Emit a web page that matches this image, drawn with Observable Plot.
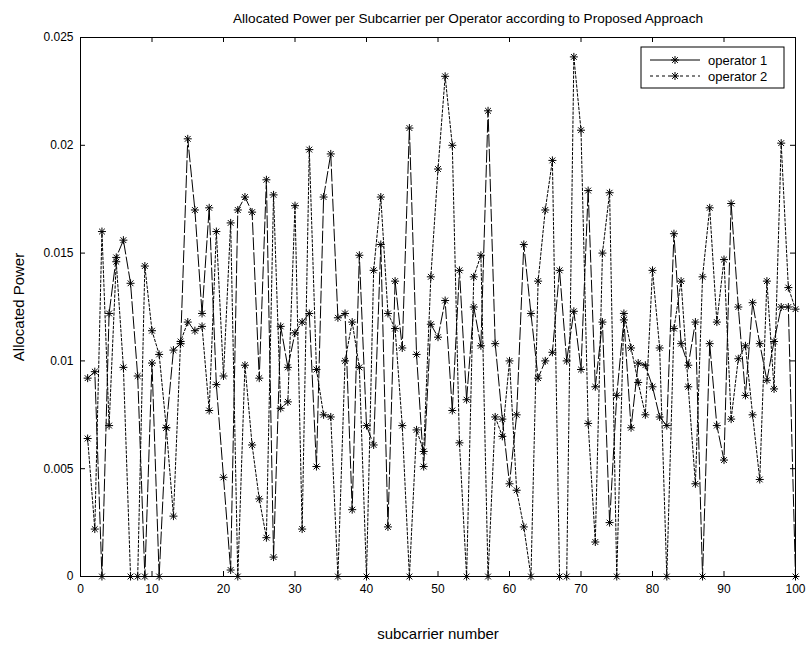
<!DOCTYPE html>
<html>
<head>
<meta charset="utf-8">
<script src="https://cdn.jsdelivr.net/npm/d3@7"></script>
<script src="https://cdn.jsdelivr.net/npm/@observablehq/plot@0.6"></script>
<style>
  html, body { margin: 0; padding: 0; background: #fff; }
  #chart { width: 809px; height: 649px; }
</style>
</head>
<body>
<div id="chart"></div>
<script>
// ---- data ----
const titleText = "Allocated Power per Subcarrier per Operator according to Proposed Approach";
const xLabel = "subcarrier number";
const yLabel = "Allocated Power";
const seriesNames = ["operator 1", "operator 2"];
const xTicks = [0, 10, 20, 30, 40, 50, 60, 70, 80, 90, 100];
const yTicks = [0, 0.005, 0.01, 0.015, 0.02, 0.025];
const yTickLabels = ["0", "0.005", "0.01", "0.015", "0.02", "0.025"];
const subcarriers = d3.range(1, 101);

const operator1 = [
  0.0092, 0.0095, 0.0000, 0.0122, 0.0148, 0.0156, 0.0136, 0.0093, 0.0000, 0.0099,
  0.0000, 0.0069, 0.0105, 0.0108, 0.0203, 0.0170, 0.0122, 0.0171, 0.0089, 0.0046,
  0.0003, 0.0170, 0.0176, 0.0169, 0.0092, 0.0184, 0.0009, 0.0116, 0.0097, 0.0113,
  0.0118, 0.0122, 0.0051, 0.0176, 0.0196, 0.0120, 0.0122, 0.0031, 0.0149, 0.0070,
  0.0061, 0.0154, 0.0023, 0.0137, 0.0106, 0.0208, 0.0103, 0.0051, 0.0117, 0.0111,
  0.0128, 0.0077, 0.0142, 0.0082, 0.0125, 0.0107, 0.0216, 0.0108, 0.0073, 0.0043,
  0.0075, 0.0154, 0.0122, 0.0092, 0.0100, 0.0104, 0.0142, 0.0100, 0.0123, 0.0096,
  0.0179, 0.0088, 0.0118, 0.0025, 0.0084, 0.0119, 0.0069, 0.0099, 0.0098, 0.0088,
  0.0074, 0.0070, 0.0159, 0.0108, 0.0098, 0.0118, 0.0000, 0.0108, 0.0070, 0.0054,
  0.0173, 0.0125, 0.0084, 0.0127, 0.0108, 0.0091, 0.0109, 0.0125, 0.0125, 0.0000
];
const operator2 = [
  0.0064, 0.0022, 0.0160, 0.0070, 0.0146, 0.0097, 0.0000, 0.0000, 0.0144, 0.0114,
  0.0103, 0.0069, 0.0028, 0.0109, 0.0118, 0.0114, 0.0116, 0.0077, 0.0160, 0.0093,
  0.0164, 0.0000, 0.0098, 0.0061, 0.0036, 0.0018, 0.0177, 0.0078, 0.0081, 0.0172,
  0.0022, 0.0198, 0.0096, 0.0075, 0.0074, 0.0000, 0.0100, 0.0118, 0.0097, 0.0000,
  0.0142, 0.0176, 0.0122, 0.0115, 0.0070, 0.0000, 0.0068, 0.0058, 0.0139, 0.0189,
  0.0232, 0.0200, 0.0062, 0.0000, 0.0139, 0.0149, 0.0000, 0.0074, 0.0065, 0.0100,
  0.0040, 0.0023, 0.0000, 0.0137, 0.0170, 0.0193, 0.0000, 0.0000, 0.0241, 0.0207,
  0.0071, 0.0016, 0.0150, 0.0178, 0.0000, 0.0122, 0.0106, 0.0090, 0.0075, 0.0142,
  0.0106, 0.0000, 0.0115, 0.0137, 0.0088, 0.0043, 0.0139, 0.0171, 0.0118, 0.0147,
  0.0073, 0.0101, 0.0107, 0.0075, 0.0045, 0.0137, 0.0087, 0.0201, 0.0134, 0.0124
];

// ---- build table ----
const rows1 = subcarriers.map((s, i) => ({s, v: operator1[i]}));
const rows2 = subcarriers.map((s, i) => ({s, v: operator2[i]}));

// MATLAB-like '*' marker
function drawStar(ctx, r) {
  const d = r * 0.72;
  ctx.moveTo(-r, 0); ctx.lineTo(r, 0);
  ctx.moveTo(0, -r); ctx.lineTo(0, r);
  ctx.moveTo(-d, -d); ctx.lineTo(d, d);
  ctx.moveTo(-d, d); ctx.lineTo(d, -d);
}
const starSymbol = { draw(ctx, size) { drawStar(ctx, Math.sqrt(size / Math.PI)); } };

const W = 809, H = 649;
const mL = 80, mR = 14, mT = 37, mB = 73;
const fw = W - mL - mR, fh = H - mT - mB;
const tick = 5;
const font = "'Liberation Sans', Arial, sans-serif";

const plot = Plot.plot({
  width: W, height: H,
  marginLeft: mL, marginRight: mR, marginTop: mT, marginBottom: mB,
  style: {fontFamily: font, fontSize: "12px", background: "#fff", color: "#000", overflow: "visible"},
  x: {domain: [0, 100], label: null},
  y: {domain: [0, 0.025], label: null},
  marks: [
    Plot.axisX({ticks: xTicks, tickSize: 0, tickPadding: 8, label: null, fontSize: 12}),
    Plot.axisY({ticks: yTicks, tickSize: 0, tickPadding: 7, label: null, fontSize: 12,
      tickFormat: (d) => yTickLabels[yTicks.indexOf(d)]}),
    // inward ticks on all four sides
    Plot.tickX(xTicks, {x: (d) => d, insetTop: fh - tick, stroke: "#000"}),
    Plot.tickX(xTicks, {x: (d) => d, insetBottom: fh - tick, stroke: "#000"}),
    Plot.tickY(yTicks, {y: (d) => d, insetRight: fw - tick, stroke: "#000"}),
    Plot.tickY(yTicks, {y: (d) => d, insetLeft: fw - tick, stroke: "#000"}),
    Plot.line(rows1, {x: "s", y: "v", stroke: "#000", strokeWidth: 1, strokeDasharray: "12,3"}),
    Plot.line(rows2, {x: "s", y: "v", stroke: "#000", strokeWidth: 1, strokeDasharray: "2.5,2"}),
    Plot.dot(rows1, {x: "s", y: "v", symbol: starSymbol, r: 4, stroke: "#000", fill: "none", strokeWidth: 1}),
    Plot.dot(rows2, {x: "s", y: "v", symbol: starSymbol, r: 4, stroke: "#000", fill: "none", strokeWidth: 1}),
    Plot.frame({stroke: "#000"}),
    Plot.text([titleText], {frameAnchor: "top", dx: 30, dy: -19, lineAnchor: "middle", fontSize: 13.6, fill: "#000"}),
    Plot.text([xLabel], {frameAnchor: "bottom", dy: 58, lineAnchor: "middle", fontSize: 15, fill: "#000"}),
    Plot.text([yLabel], {frameAnchor: "left", dx: -61, rotate: -90, textAnchor: "middle", lineAnchor: "middle", fontSize: 15, fill: "#000"})
  ]
});

document.getElementById("chart").appendChild(plot);

// ---- legend (drawn inside the same svg) ----
const svg = d3.select(plot);
const lg = svg.append("g").attr("font-family", font).attr("font-size", 13).attr("text-anchor", "start");
const lx = 641, ly = 47, lw = 143, lh = 41;
lg.append("rect").attr("x", lx).attr("y", ly).attr("width", lw).attr("height", lh)
  .attr("fill", "#fff").attr("stroke", "#000");
const dashes = [null, "3,3"];
seriesNames.forEach((name, k) => {
  const yy = ly + 13 + k * 16;
  lg.append("line").attr("x1", lx + 9).attr("x2", lx + 59).attr("y1", yy).attr("y2", yy)
    .attr("stroke", "#000").attr("stroke-dasharray", dashes[k]);
  const p = d3.path();
  drawStar(p, 4);
  lg.append("path").attr("d", p.toString()).attr("transform", `translate(${lx + 34},${yy})`)
    .attr("stroke", "#000").attr("fill", "none");
  lg.append("text").attr("x", lx + 67).attr("y", yy).attr("dy", "0.35em").attr("fill", "#000").text(name);
});
</script>
</body>
</html>
